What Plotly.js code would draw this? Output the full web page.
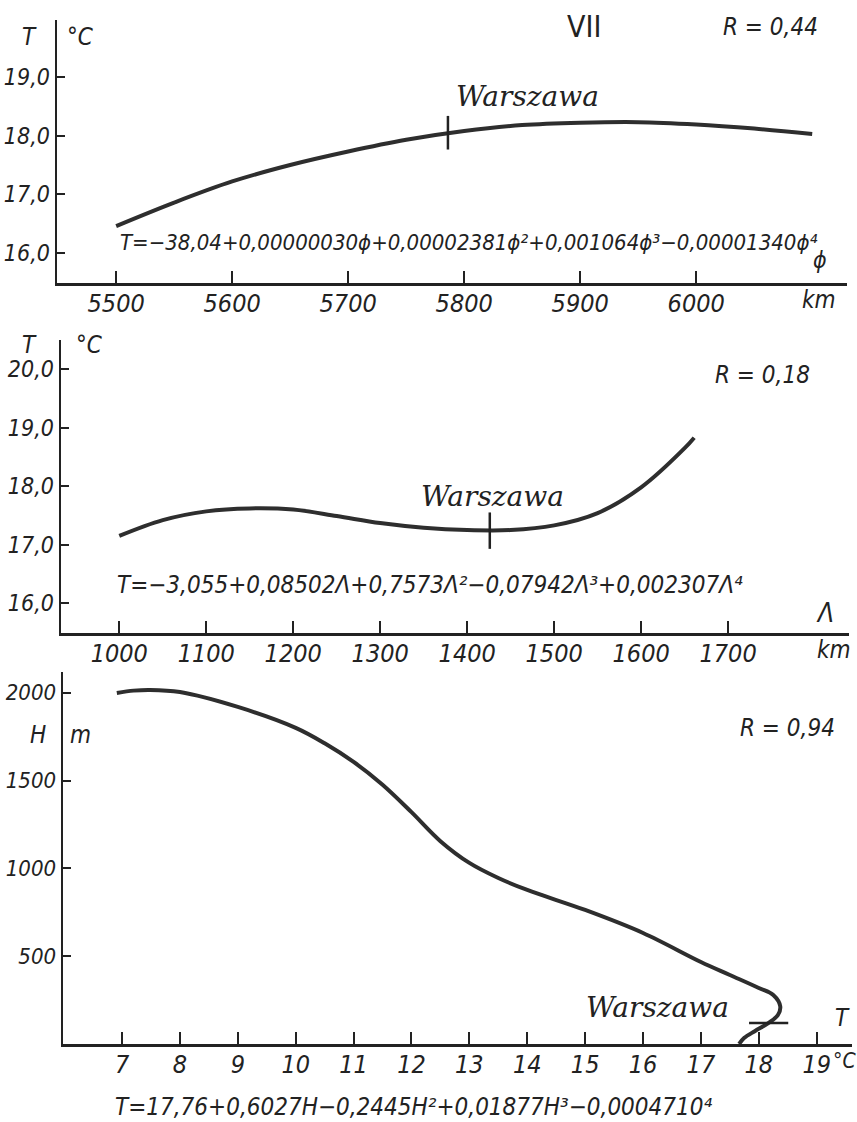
<!DOCTYPE html>
<html>
<head>
<meta charset="utf-8">
<script src="https://cdn.plot.ly/plotly-3.0.1.min.js"></script>
<style>html,body{margin:0;padding:0;background:#fff;}#chart{width:857px;height:1122px;}</style>
</head>
<body>
<div id="chart"></div>
<script>
// Panel 1: temperature vs. phi (km)
const phiKm    = [5500, 5550, 5600, 5650, 5700, 5750, 5800, 5850, 5900, 5950, 6000, 6050, 6100];
const tempPhi  = [16.46, 16.86, 17.22, 17.50, 17.73, 17.93, 18.08, 18.18, 18.22, 18.23, 18.19, 18.12, 18.03];
const warsawPhi = [5786];
const warsawTempPhi = [18.05];
const phiTicks = [5500, 5600, 5700, 5800, 5900, 6000];
const phiTickText = ["5500", "5600", "5700", "5800", "5900", "6000"];
const temp1Ticks = [16, 17, 18, 19];
const temp1TickText = ["16,0", "17,0", "18,0", "19,0"];

// Panel 2: temperature vs. lambda (km)
const lambdaKm   = [1000, 1050, 1100, 1150, 1200, 1250, 1300, 1350, 1400, 1450, 1500, 1550, 1600, 1650, 1661];
const tempLambda = [17.15, 17.42, 17.57, 17.62, 17.60, 17.49, 17.37, 17.29, 17.25, 17.25, 17.33, 17.54, 17.98, 18.65, 18.83];
const warsawLambda = [1426];
const warsawTempLambda = [17.24];
const lambdaTicks = [1000, 1100, 1200, 1300, 1400, 1500, 1600, 1700];
const lambdaTickText = ["1000", "1100", "1200", "1300", "1400", "1500", "1600", "1700"];
const temp2Ticks = [16, 17, 18, 19, 20];
const temp2TickText = ["16,0", "17,0", "18,0", "19,0", "20,0"];

// Panel 3: height (m) vs. temperature
const tempH   = [6.91, 7.20, 7.48, 8.00, 9.00, 10.00, 10.50, 11.00, 11.50, 12.00, 12.50, 13.00, 13.50, 14.00, 15.00, 16.00, 17.00, 17.50, 18.00, 18.25, 18.37, 18.33, 18.17, 17.93, 17.75, 17.66];
const heightH = [1999, 2012, 2016, 2004, 1919, 1800, 1712, 1606, 1476, 1320, 1155, 1031, 945, 877, 763, 632, 467, 393, 319, 279, 215, 165, 120, 73, 35, 0];
const warsawTempH = [18.17];
const warsawHeight = [120];
const tempHTicks = [7, 8, 9, 10, 11, 12, 13, 14, 15, 16, 17, 18, 19];
const tempHTickText = ["7", "8", "9", "10", "11", "12", "13", "14", "15", "16", "17", "18", "19"];
const heightTicks = [500, 1000, 1500, 2000];
const heightTickText = ["500", "1000", "1500", "2000"];

const SANS = "DejaVu Sans Condensed, Liberation Sans Narrow, DejaVu Sans, sans-serif";
const SERIF = "DejaVu Serif, Liberation Serif, serif";
const INK = "#222222";
const CURVE = "#2e2e2e";

function tf(size) { return {family: SANS, size: size, color: INK, style: "italic"}; }

function curve(x, y, xa, ya) {
  return {x: x, y: y, xaxis: xa, yaxis: ya, mode: "lines", type: "scatter",
          line: {color: CURVE, width: 4, shape: "spline", smoothing: 1}, hoverinfo: "skip"};
}
function marker(x, y, xa, ya, sym, size) {
  return {x: x, y: y, xaxis: xa, yaxis: ya, mode: "markers", type: "scatter",
          marker: {symbol: sym, size: size, color: INK, line: {width: 2.5, color: INK}}, hoverinfo: "skip"};
}

const data = [
  curve(phiKm, tempPhi, "x", "y"),
  marker(warsawPhi, warsawTempPhi, "x", "y", "line-ns", 24),
  curve(lambdaKm, tempLambda, "x2", "y2"),
  marker(warsawLambda, warsawTempLambda, "x2", "y2", "line-ns", 26),
  curve(tempH, heightH, "x3", "y3"),
  marker(warsawTempH, warsawHeight, "x3", "y3", "line-ew", 28)
];

function xax(domain, range, anchor, vals, text) {
  return {domain: domain, range: range, anchor: anchor, showline: true, linewidth: 2.5, linecolor: INK,
          ticks: "inside", ticklen: 12, tickwidth: 2, tickcolor: INK, tickvals: vals, ticktext: text,
          showgrid: false, zeroline: false, tickfont: tf(25), ticklabelstandoff: -4, fixedrange: true};
}
function yax(domain, range, anchor, vals, text, size) {
  return {domain: domain, range: range, anchor: anchor, showline: true, linewidth: 2.5, linecolor: INK,
          ticks: "inside", ticklen: 8, tickwidth: 2, tickcolor: INK, tickvals: vals, ticktext: text,
          showgrid: false, zeroline: false, tickfont: tf(size), ticklabelstandoff: 0, fixedrange: true};
}

function ann(x, y, text, size, opts) {
  const a = Object.assign({xref: "paper", yref: "paper", x: x, y: y, text: text, showarrow: false,
          xanchor: "center", yanchor: "middle", font: tf(size)}, opts || {});
  return a;
}
const W = 857, H = 1122;
function px(x) { return x / W; }
function py(y) { return 1 - y / H; }

const serifFont = {family: SERIF, size: 28, color: INK, style: "italic"};

const annotations = [
  // panel 1
  ann(px(30), py(37), "T", 24),
  ann(px(80), py(37), "°C", 24),
  ann(px(584), py(27), "VII", 30, {font: {family: SANS, size: 30, color: INK}}),
  ann(px(770), py(27), "R = 0,44", 24),
  ann(px(527), py(97), "Warszawa", 28, {font: serifFont}),
  ann(px(118), py(243), "T=−38,04+0,00000030ϕ+0,00002381ϕ²+0,001064ϕ³−0,00001340ϕ⁴", 22, {xanchor: "left"}),
  ann(px(820), py(260), "ϕ", 23),
  ann(px(819), py(300), "km", 24),
  // panel 2
  ann(px(30), py(345), "T", 24),
  ann(px(89), py(345), "°C", 24),
  ann(px(762), py(375), "R = 0,18", 24),
  ann(px(492), py(497), "Warszawa", 28, {font: serifFont}),
  ann(px(115), py(585), "T=−3,055+0,08502Λ+0,7573Λ²−0,07942Λ³+0,002307Λ⁴", 24, {xanchor: "left"}),
  ann(px(825), py(613), "Λ", 26),
  ann(px(834), py(650), "km", 24),
  // panel 3
  ann(px(38), py(735), "H", 24),
  ann(px(80), py(735), "m", 24),
  ann(px(787), py(728), "R = 0,94", 24),
  ann(px(657), py(1007), "Warszawa", 28, {font: serifFont}),
  ann(px(842), py(1018), "T", 24),
  ann(px(831), py(1061), "°C", 21, {xanchor: "left"}),
  ann(px(113), py(1107), "T=17,76+0,6027H−0,2445H²+0,01877H³−0,0004710⁴", 24, {xanchor: "left"})
];

const layout = {
  width: W, height: H,
  margin: {l: 0, r: 0, t: 0, b: 0, pad: 0},
  paper_bgcolor: "#ffffff", plot_bgcolor: "#ffffff",
  showlegend: false,
  xaxis:  xax([px(57), px(847)], [5449, 6130], "y", phiTicks, phiTickText),
  yaxis:  yax([py(283), py(20)], [15.49, 19.97], "x", temp1Ticks, temp1TickText, 23),
  xaxis2: xax([px(61), px(849)], [933, 1839], "y2", lambdaTicks, lambdaTickText),
  yaxis2: yax([py(633), py(340)], [15.49, 20.5], "x2", temp2Ticks, temp2TickText, 23),
  xaxis3: xax([px(63), px(852)], [5.98, 19.61], "y3", tempHTicks, tempHTickText),
  yaxis3: yax([py(1044), py(672)], [0, 2118], "x3", heightTicks, heightTickText, 22),
  annotations: annotations
};

Plotly.newPlot("chart", data, layout, {displayModeBar: false, staticPlot: true});
</script>
</body>
</html>
